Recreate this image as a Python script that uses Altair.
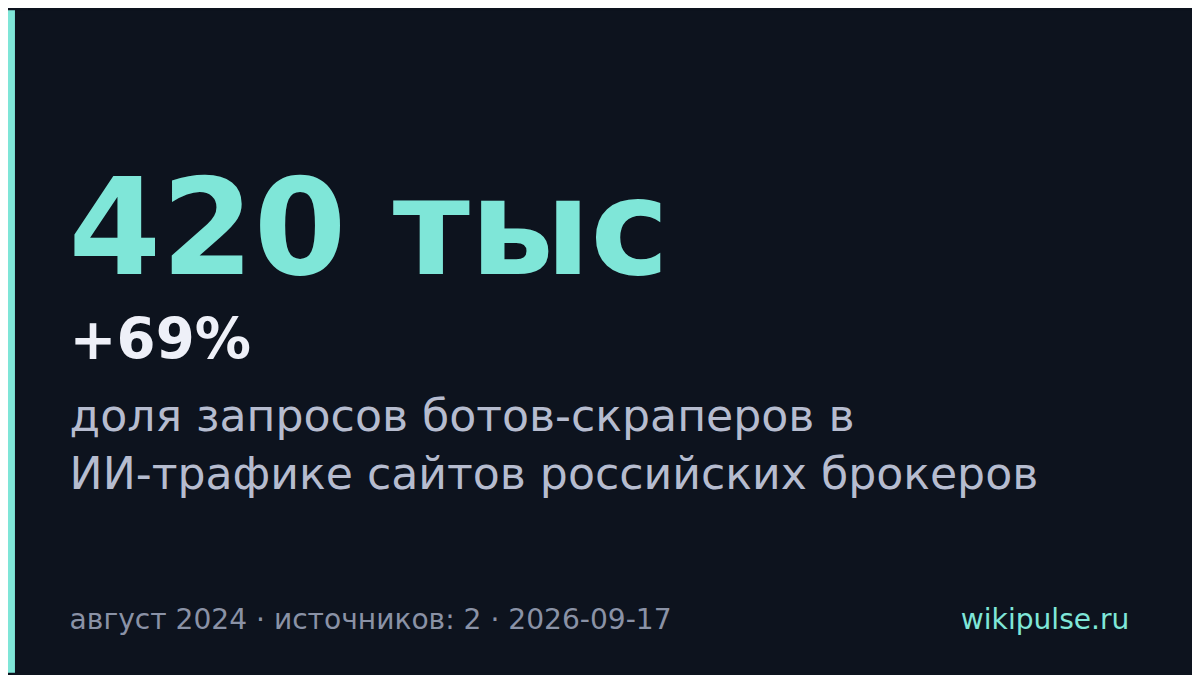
import altair as alt
import pandas as pd

# Text content
headline = ["420 тыс"]
delta = ["+69%"]
desc_lines = ["доля запросов ботов-скраперов в", "ИИ-трафике сайтов российских брокеров"]
footer_left = ["август 2024 · источников: 2 · 2026-09-17"]
footer_right = ["wikipulse.ru"]

BG = "#0d131e"
TEAL = "#7fe6d8"
OFF = 8  # page margin

W, H = 1200 - OFF, 675 - OFF
FONT = "DejaVu Sans"

def txt(text, x, y, size, color, weight="normal", align="left"):
    return alt.Chart(pd.DataFrame({"t": [text]})).mark_text(
        text=text, font=FONT, fontSize=size, fontWeight=weight, color=color,
        align=align, baseline="alphabetic"
    ).encode(x=alt.value(x - OFF), y=alt.value(y - OFF))

bar = alt.Chart(pd.DataFrame({"a": [0]})).mark_rect(color=TEAL).encode(
    x=alt.value(0), x2=alt.value(15 - OFF), y=alt.value(0), y2=alt.value(H)
)

layers = [
    bar,
    txt(headline[0], 69, 274, 134, TEAL, "bold"),
    txt(delta[0], 70, 359, 56.5, "#eef0f8", "bold"),
    txt(desc_lines[0], 70, 432, 44.5, "#b6bccf"),
    txt(desc_lines[1], 70, 490, 44.5, "#b6bccf"),
    txt(footer_left[0], 70, 631, 28.3, "#8a92a6"),
    txt(footer_right[0], 1137, 631, 28.3, TEAL, align="right"),
]

chart = alt.layer(*layers).properties(
    width=W, height=H, padding=0, background=BG,
    autosize=alt.AutoSizeParams(type="none")
).configure_view(stroke=None, fill=BG)

chart.save("out.html", embed_options={"renderer": "svg", "actions": False})
